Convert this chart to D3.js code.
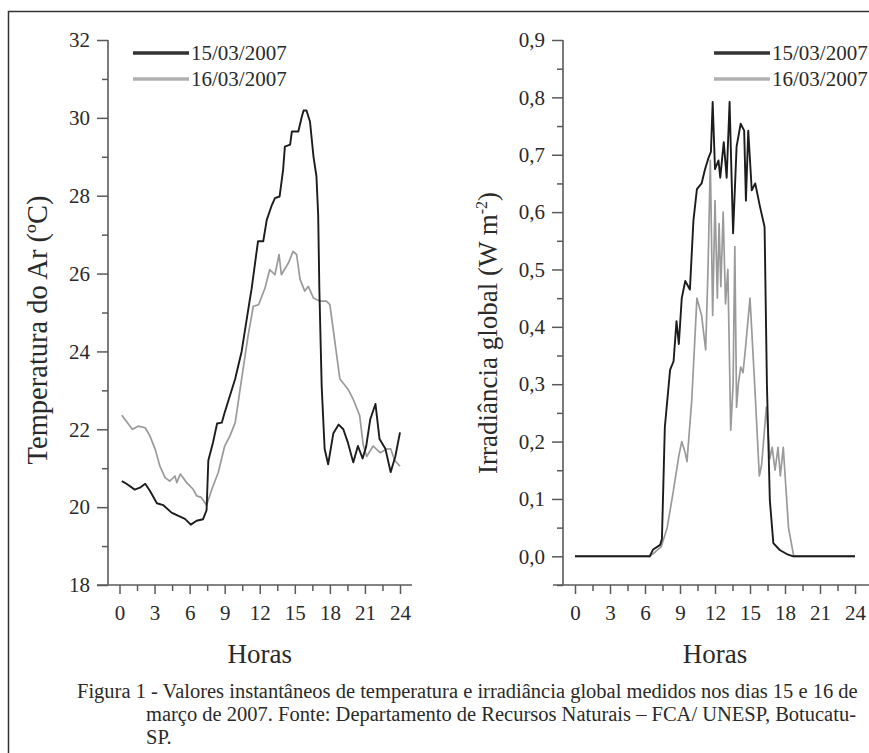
<!DOCTYPE html>
<html>
<head>
<meta charset="utf-8">
<script src="https://cdn.jsdelivr.net/npm/d3@7"></script>
<style>
  body { margin: 0; background: #fff; }
  svg, svg text { font-family: "Liberation Serif", "Times New Roman", serif; }
  svg { display: block; }
</style>
</head>
<body>
<div id="chart"></div>
<script>
// Series labels
const seriesNames = ["15/03/2007", "16/03/2007"];

// Air temperature (ºC), 15/03
const tempHours15 = [0.2, 0.6, 1.3, 1.75, 2.2, 2.6, 3.2, 3.75, 4.45, 5.0, 5.6, 6.1, 6.6, 7.15, 7.45, 7.6, 8.0, 8.35, 8.75, 9.0,
    9.9, 10.45, 11.15, 11.3, 11.85, 12.3, 12.6, 13.0, 13.3, 13.7, 14.0, 14.15, 14.6, 14.75, 15.3, 15.6, 15.75, 16.0, 16.3, 16.6,
    16.85, 17.0, 17.1, 17.3, 17.55, 17.85, 18.3, 18.75, 19.15, 19.55, 20.0, 20.4, 20.8, 21.1, 21.45, 21.9, 22.25, 22.75, 23.2, 23.6, 24.0];
const temp15 = [20.67, 20.6, 20.45, 20.5, 20.6, 20.42, 20.1, 20.05, 19.86, 19.78, 19.7, 19.55, 19.65, 19.69, 19.92, 21.2, 21.66, 22.15, 22.17, 22.43,
    23.3, 24.0, 25.33, 25.6, 26.83, 26.83, 27.38, 27.73, 27.94, 27.98, 28.67, 29.26, 29.31, 29.65, 29.65, 30.03, 30.19, 30.19, 29.9, 29.0,
    28.5, 27.5, 25.6, 23.1, 21.5, 21.1, 21.9, 22.12, 22.0, 21.65, 21.15, 21.57, 21.25, 21.55, 22.25, 22.65, 21.75, 21.5, 20.9, 21.3, 21.92];

// Air temperature (ºC), 16/03
const tempHours16 = [0.2, 0.6, 1.1, 1.6, 2.2, 2.6, 3.05, 3.45, 3.9, 4.3, 4.75, 4.9, 5.2, 5.75, 6.3, 6.6, 7.0, 7.45, 7.9, 8.45,
    9.0, 9.45, 9.9, 10.5, 11.0, 11.45, 11.9, 12.45, 12.85, 13.3, 13.65, 13.85, 14.45, 14.85, 15.15, 15.45, 15.85, 16.15, 16.6, 17.15,
    17.7, 18.0, 18.45, 18.85, 19.55, 20.0, 20.55, 20.85, 21.15, 21.7, 22.3, 22.85, 23.2, 23.55, 24.0];
const temp16 = [22.36, 22.2, 22.0, 22.08, 22.04, 21.83, 21.49, 21.06, 20.76, 20.67, 20.8, 20.63, 20.85, 20.63, 20.46, 20.29, 20.25, 20.05, 20.46, 20.89,
    21.57, 21.83, 22.17, 23.4, 24.4, 25.16, 25.2, 25.63, 26.1, 25.97, 26.49, 25.97, 26.27, 26.57, 26.49, 25.85, 25.55, 25.67, 25.37, 25.29,
    25.29, 25.2, 24.2, 23.3, 23.03, 22.77, 22.35, 21.6, 21.3, 21.57, 21.4, 21.49, 21.5, 21.2, 21.05];

// Global irradiance, 15/03
const radHours15 = [0, 6.4, 6.7, 7.3, 7.45, 7.7, 8.15, 8.45, 8.7, 8.9, 9.15, 9.45, 9.85, 10.15, 10.45, 10.85, 11.15, 11.45, 11.65, 11.8,
    12.0, 12.3, 12.45, 12.75, 13.0, 13.25, 13.55, 13.85, 14.2, 14.5, 14.65, 14.85, 15.15, 15.45, 15.85, 16.25, 16.45, 16.7, 17.0, 17.55,
    18.15, 18.7, 24];
const rad15 = [0, 0, 0.012, 0.02, 0.03, 0.225, 0.325, 0.34, 0.41, 0.37, 0.45, 0.48, 0.465, 0.585, 0.64, 0.65, 0.675, 0.695, 0.705, 0.792,
    0.675, 0.69, 0.66, 0.722, 0.66, 0.792, 0.563, 0.714, 0.754, 0.742, 0.62, 0.742, 0.638, 0.65, 0.61, 0.574, 0.3, 0.098, 0.023, 0.011,
    0.004, 0, 0];

// Global irradiance, 16/03
const radHours16 = [0, 6.4, 6.9, 7.4, 7.9, 8.4, 8.9, 9.15, 9.45, 9.6, 10.0, 10.45, 10.85, 11.2, 11.4, 11.6, 11.8, 12.0, 12.2, 12.35,
    12.5, 12.7, 12.9, 13.1, 13.35, 13.55, 13.7, 13.85, 14.0, 14.2, 14.4, 14.6, 15.0, 15.4, 15.8, 16.0, 16.4, 16.7, 16.9, 17.15,
    17.4, 17.6, 17.85, 18.3, 18.75, 24];
const rad16 = [0, 0, 0.008, 0.017, 0.05, 0.11, 0.175, 0.2, 0.18, 0.165, 0.27, 0.45, 0.42, 0.36, 0.5, 0.69, 0.42, 0.62, 0.45, 0.58,
    0.47, 0.6, 0.44, 0.5, 0.22, 0.3, 0.54, 0.26, 0.3, 0.33, 0.32, 0.36, 0.45, 0.3, 0.14, 0.16, 0.26, 0.17, 0.19, 0.15,
    0.19, 0.14, 0.19, 0.05, 0, 0];

// Axis ticks
const hourTicks = [0, 3, 6, 9, 12, 15, 18, 21, 24];
const hourMinor = [1.5, 4.5, 7.5, 10.5, 13.5, 16.5, 19.5, 22.5];
const tempTicks = [18, 20, 22, 24, 26, 28, 30, 32];
const tempMinor = [19, 21, 23, 25, 27, 29, 31];
const radTicks = [0, 0.1, 0.2, 0.3, 0.4, 0.5, 0.6, 0.7, 0.8, 0.9];
const radMinor = [-0.05, 0.05, 0.15, 0.25, 0.35, 0.45, 0.55, 0.65, 0.75, 0.85];

const captionLines = [
    "Figura 1 - Valores instantâneos de temperatura e irradiância global medidos nos dias 15 e 16 de",
    "março de 2007. Fonte: Departamento de Recursos Naturais – FCA/ UNESP, Botucatu-",
    "SP."
];

const width = 869, height = 753;
const serif = "Liberation Serif, Times New Roman, serif";
const darkColor = "#1c1c1c", lightColor = "#9a9a9a", axisColor = "#5a5a5a", textColor = "#2a2a2a";

const svg = d3.select("#chart").append("svg")
    .attr("width", width)
    .attr("height", height)
    .attr("font-family", serif);

svg.append("rect").attr("width", width).attr("height", height).attr("fill", "#fff");

// outer frame (open on the right and bottom)
svg.append("path")
    .attr("d", `M8.5,${height} L8.5,11.5 L${width},11.5`)
    .attr("fill", "none")
    .attr("stroke", "#333")
    .attr("stroke-width", 1.5);

function drawPanel(opt) {
    const g = svg.append("g");
    const x = d3.scaleLinear().domain([0, 24]).range(opt.xRange);
    const y = d3.scaleLinear().domain(opt.yDomain).range([585, 40]);

    // axis lines
    g.append("line")
        .attr("x1", opt.yAxisX).attr("x2", opt.yAxisX)
        .attr("y1", y.range()[1]).attr("y2", y.range()[0])
        .attr("stroke", axisColor).attr("stroke-width", 1.6);
    g.append("line")
        .attr("x1", opt.xAxisFrom).attr("x2", opt.xAxisTo)
        .attr("y1", y.range()[0]).attr("y2", y.range()[0])
        .attr("stroke", axisColor).attr("stroke-width", 1.6);

    // y ticks
    const yMajor = g.append("g")
        .attr("transform", `translate(${opt.yAxisX},0)`)
        .call(d3.axisLeft(y).tickValues(opt.yTicks).tickSize(11).tickPadding(7).tickFormat(opt.yFormat));
    const yMin = g.append("g")
        .attr("transform", `translate(${opt.yAxisX},0)`)
        .call(d3.axisLeft(y).tickValues(opt.yMinor).tickSize(6).tickFormat(""));

    // x ticks
    const xMajor = g.append("g")
        .attr("transform", `translate(0,${y.range()[0]})`)
        .call(d3.axisBottom(x).tickValues(hourTicks).tickSize(9).tickPadding(11).tickFormat(d3.format("d")));
    const xMin = g.append("g")
        .attr("transform", `translate(0,${y.range()[0]})`)
        .call(d3.axisBottom(x).tickValues(hourMinor).tickSize(6).tickFormat(""));

    [yMajor, yMin, xMajor, xMin].forEach(a => {
        a.attr("font-family", serif).attr("font-size", 21);
        a.select(".domain").remove();
        a.selectAll("line").attr("stroke", axisColor).attr("stroke-width", 1.5);
        a.selectAll("text").attr("fill", textColor);
    });

    // lines
    const line = d3.line().x(d => x(d[0])).y(d => y(d[1]));
    g.append("path")
        .datum(d3.zip(opt.hours16, opt.values16))
        .attr("d", line)
        .attr("fill", "none")
        .attr("stroke", lightColor)
        .attr("stroke-width", 1.7)
        .attr("stroke-linejoin", "round");
    g.append("path")
        .datum(d3.zip(opt.hours15, opt.values15))
        .attr("d", line)
        .attr("fill", "none")
        .attr("stroke", darkColor)
        .attr("stroke-width", 1.9)
        .attr("stroke-linejoin", "round");

    // legend
    const leg = g.append("g").attr("transform", `translate(${opt.legendX},53)`);
    seriesNames.forEach((name, i) => {
        leg.append("line")
            .attr("x1", 0).attr("x2", 56)
            .attr("y1", i * 26).attr("y2", i * 26)
            .attr("stroke", i === 0 ? "#333" : "#b0b0b0")
            .attr("stroke-width", 3.5);
        leg.append("text")
            .attr("x", 58).attr("y", i * 26 + 7)
            .attr("fill", textColor)
            .attr("font-size", 21)
            .text(name);
    });

    // x title
    g.append("text")
        .attr("x", (x(0) + x(24)) / 2)
        .attr("y", 663)
        .attr("text-anchor", "middle")
        .attr("fill", textColor)
        .attr("font-size", 27)
        .text("Horas");

    // y title
    const yt = g.append("text")
        .attr("transform", `translate(${opt.yTitleX},${opt.yTitleY}) rotate(-90)`)
        .attr("text-anchor", "middle")
        .attr("fill", textColor)
        .attr("font-size", opt.yTitleSize);
    opt.yTitle(yt);
}

const commaFmt = d => d3.format(".1f")(d).replace(".", ",");

drawPanel({
    xRange: [119.5, 400],
    yDomain: [18, 32],
    yAxisX: 108,
    xAxisFrom: 97, xAxisTo: 412,
    yTicks: tempTicks, yMinor: tempMinor,
    yFormat: d3.format("d"),
    hours15: tempHours15, values15: temp15,
    hours16: tempHours16, values16: temp16,
    legendX: 133,
    yTitleX: 47, yTitleY: 330, yTitleSize: 28.5,
    yTitle: t => t.text("Temperatura do Ar (ºC)")
});

drawPanel({
    xRange: [575, 855],
    yDomain: [-0.05, 0.9],
    yAxisX: 563,
    xAxisFrom: 553, xAxisTo: 869,
    yTicks: radTicks, yMinor: radMinor,
    yFormat: commaFmt,
    hours15: radHours15, values15: rad15,
    hours16: radHours16, values16: rad16,
    legendX: 714,
    yTitleX: 497, yTitleY: 333, yTitleSize: 27,
    yTitle: t => {
        t.append("tspan").text("Irradiância global (W m");
        t.append("tspan").attr("dy", -10).attr("font-size", 16).text("-2");
        t.append("tspan").attr("dy", 10).text(")");
    }
});

// caption
const cap = svg.append("g").attr("fill", textColor).attr("font-size", 20.5);
captionLines.forEach((s, i) => {
    cap.append("text")
        .attr("x", i === 0 ? 77 : 146)
        .attr("y", 698 + i * 23)
        .text(s);
});
</script>
</body>
</html>
